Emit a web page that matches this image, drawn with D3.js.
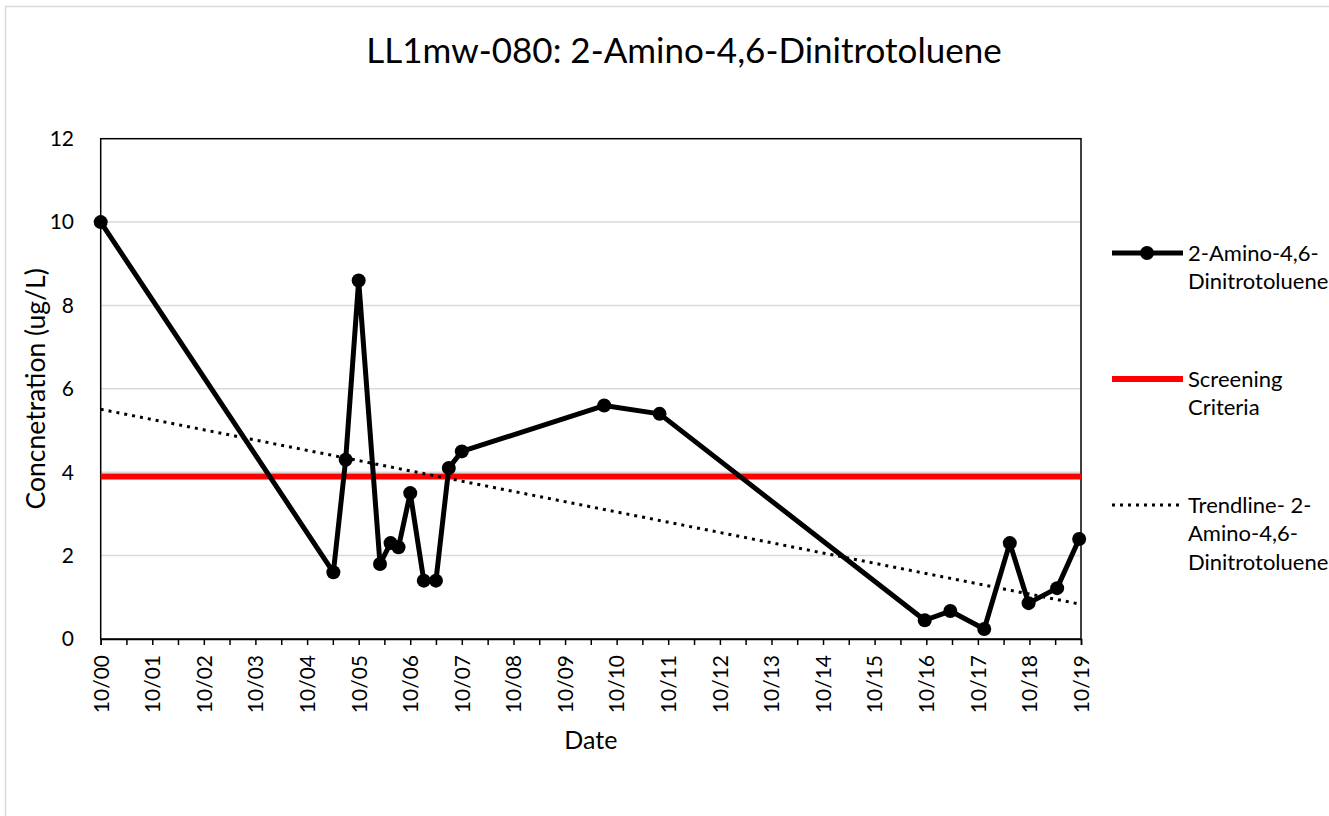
<!DOCTYPE html>
<meta charset="utf-8">
<script src="https://cdn.jsdelivr.net/npm/d3@7"></script>
<style>
  body { margin: 0; background: #fff; }
  text { font-family: Lato, "Open Sans", sans-serif; fill: #000; }
</style>
<body>
<script>

var sampleDates = ["2000-10-01", "2005-04-05", "2005-07-01", "2005-10-01", "2006-03-01",
  "2006-05-15", "2006-07-10", "2006-10-01", "2007-01-05", "2007-04-01", "2007-07-01",
  "2007-10-01", "2010-07-05", "2011-08-01", "2016-09-20", "2017-03-20", "2017-11-15",
  "2018-05-15", "2018-09-25", "2019-04-15", "2019-09-18"];
var concentrations = [10, 1.6, 4.3, 8.6, 1.8, 2.3, 2.2, 3.5, 1.4, 1.4, 4.1,
  4.5, 5.6, 5.4, 0.45, 0.67, 0.24, 2.3, 0.86, 1.22, 2.4];

var screeningCriteria = 3.9;

// linear trendline end points
var trendDates = ["2000-10-01", "2019-09-18"];
var trendValues = [5.51, 0.84];

var yTicks = [0, 2, 4, 6, 8, 10, 12];
var axisStart = "2000-10-01", axisEnd = "2019-10-01";

var legendLabels = [
  ["2-Amino-4,6-", "Dinitrotoluene"],
  ["Screening", "Criteria"],
  ["Trendline- 2-", "Amino-4,6-", "Dinitrotoluene"]
];

var width = 1329, height = 816;
var plotLeft = 100.7, plotRight = 1081, plotTop = 138.7, plotBottom = 639;

var parse = d3.timeParse("%Y-%m-%d");
var data = sampleDates.map(function(d, i) {
  return {date: parse(d), value: concentrations[i]};
});
var trend = trendDates.map(function(d, i) {
  return {date: parse(d), value: trendValues[i]};
});

var svg = d3.select("body").append("svg")
    .attr("width", width)
    .attr("height", height);

// outer chart border
svg.append("rect")
    .attr("x", 5.5).attr("y", 6.5)
    .attr("width", 1340).attr("height", 830)
    .attr("fill", "none")
    .attr("stroke", "#d9d9d9")
    .attr("stroke-width", 1.5);

var x = d3.scaleTime()
    .domain([parse(axisStart), parse(axisEnd)])
    .range([plotLeft, plotRight]);

var y = d3.scaleLinear()
    .domain([0, 12])
    .range([plotBottom, plotTop]);

// gridlines
svg.append("g")
  .selectAll("line")
  .data(yTicks.filter(function(d) { return d > 0 && d < 12; }))
  .enter().append("line")
    .attr("x1", plotLeft).attr("x2", plotRight)
    .attr("y1", function(d) { return y(d); })
    .attr("y2", function(d) { return y(d); })
    .attr("stroke", "#d9d9d9")
    .attr("stroke-width", 1.5);

// plot frame
svg.append("rect")
    .attr("x", plotLeft).attr("y", plotTop)
    .attr("width", plotRight - plotLeft).attr("height", plotBottom - plotTop)
    .attr("fill", "none")
    .attr("stroke", "#000")
    .attr("stroke-width", 1.5);

// y tick labels
svg.append("g")
  .selectAll("text")
  .data(yTicks)
  .enter().append("text")
    .attr("x", 74)
    .attr("y", function(d) { return y(d); })
    .attr("dy", "0.35em")
    .attr("text-anchor", "end")
    .style("font-size", "21px")
    .text(function(d) { return d; });

// x axis: ticks every six months, labels every October
var halfYears = d3.timeMonth.range(parse(axisStart), d3.timeDay.offset(parse(axisEnd), 1), 6);
var xAxis = d3.axisBottom(x)
    .tickValues(halfYears)
    .tickSize(6)
    .tickFormat(function(d) { return d.getMonth() === 9 ? d3.timeFormat("%m/%y")(d) : ""; });

var gx = svg.append("g")
    .attr("transform", "translate(0," + plotBottom + ")")
    .call(xAxis);
gx.select(".domain").attr("stroke-width", 1.5);
gx.selectAll(".tick line").attr("stroke-width", 1.5);
gx.selectAll(".tick text")
    .attr("transform", "rotate(-90)")
    .attr("text-anchor", "end")
    .attr("x", -16)
    .attr("y", 0)
    .attr("dy", "0.35em")
    .style("font-family", "Lato, sans-serif")
    .style("font-size", "21px");

// screening criteria
svg.append("line")
    .attr("x1", plotLeft).attr("x2", plotRight)
    .attr("y1", y(screeningCriteria)).attr("y2", y(screeningCriteria))
    .attr("stroke", "#ff0000")
    .attr("stroke-width", 6);

// trendline
var line = d3.line()
    .x(function(d) { return x(d.date); })
    .y(function(d) { return y(d.value); });

svg.append("path")
    .datum(trend)
    .attr("d", line)
    .attr("fill", "none")
    .attr("stroke", "#000")
    .attr("stroke-width", 3)
    .attr("stroke-dasharray", "3,5");

// data series
svg.append("path")
    .datum(data)
    .attr("d", line)
    .attr("fill", "none")
    .attr("stroke", "#000")
    .attr("stroke-width", 5)
    .attr("stroke-linejoin", "round");

svg.append("g")
  .selectAll("circle")
  .data(data)
  .enter().append("circle")
    .attr("cx", function(d) { return x(d.date); })
    .attr("cy", function(d) { return y(d.value); })
    .attr("r", 7)
    .attr("fill", "#000");

// titles
svg.append("text")
    .attr("x", 684).attr("y", 63)
    .attr("text-anchor", "middle")
    .style("font-size", "35px")
    .text("LL1mw-080: 2-Amino-4,6-Dinitrotoluene");

svg.append("text")
    .attr("transform", "translate(45," + ((plotTop + plotBottom) / 2) + ") rotate(-90)")
    .attr("text-anchor", "middle")
    .style("font-size", "26.5px")
    .text("Concnetration (ug/L)");

svg.append("text")
    .attr("x", (plotLeft + plotRight) / 2).attr("y", 749)
    .attr("text-anchor", "middle")
    .style("font-size", "25px")
    .text("Date");

// legend
var legendY = [253, 379, 505];
var legend = svg.append("g");

legend.append("line")
    .attr("x1", 1112).attr("x2", 1183)
    .attr("y1", legendY[0]).attr("y2", legendY[0])
    .attr("stroke", "#000").attr("stroke-width", 5);
legend.append("circle")
    .attr("cx", 1147).attr("cy", legendY[0]).attr("r", 7);
legend.append("line")
    .attr("x1", 1112).attr("x2", 1183)
    .attr("y1", legendY[1]).attr("y2", legendY[1])
    .attr("stroke", "#ff0000").attr("stroke-width", 6);
legend.append("line")
    .attr("x1", 1112).attr("x2", 1183)
    .attr("y1", legendY[2]).attr("y2", legendY[2])
    .attr("stroke", "#000").attr("stroke-width", 3)
    .attr("stroke-dasharray", "3,5");

legendLabels.forEach(function(lines, i) {
  var t = legend.append("text")
      .attr("x", 1188)
      .attr("y", legendY[i])
      .style("font-size", "22px");
  lines.forEach(function(s, j) {
    t.append("tspan")
        .attr("x", 1188)
        .attr("y", legendY[i] + j * 28.5)
        .attr("dy", "0.35em")
        .text(s);
  });
});

</script>
</body>
